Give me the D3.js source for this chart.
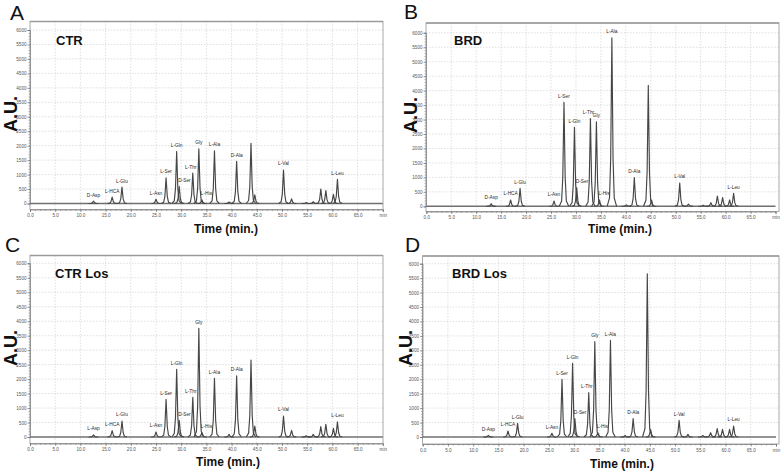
<!DOCTYPE html>
<html><head><meta charset="utf-8">
<script src="https://cdn.jsdelivr.net/npm/d3@7"></script>
<style>body{margin:0;background:#fff} svg{display:block}</style>
</head><body>
<svg id="c" width="784" height="472"></svg>
<script>
// ---------------- DATA ----------------
const peakNames = ["D-Asp","L-HCA","L-Glu","L-Asn","L-Ser","L-Gln","D-Ser","L-Thr","Gly","L-His","L-Ala",null,"D-Ala",null,null,"L-Val",null,null,null,null,null,null,"L-Leu"];
const aspLabels = ["D-Asp","D-Asp","L-Asp","D-Asp"];
const timeCTR = [12.6,16.3,18.25,25.0,27.0,29.1,29.6,32.3,33.5,34.1,36.6,39.5,41.0,43.85,44.6,50.3,51.9,54.8,56.2,57.7,58.7,60.2,61.0];
const timeBRD = [13.0,16.9,18.8,25.6,27.6,29.7,30.15,32.9,34.1,34.7,37.2,40.1,41.7,44.5,45.15,50.8,52.55,55.5,57.05,58.35,59.4,60.8,61.6];
const heightCTR    = [80,220,565,150,890,1800,590,1050,1890,130,1820,50,1460,2085,300,1160,160,30,60,500,450,320,840];
const heightBRD    = [90,218,620,184,3600,2735,645,3035,2920,220,5830,50,990,4180,220,805,80,40,125,356,300,220,450];
const heightCTRLos = [70,220,553,173,1300,2340,576,1370,3755,150,2030,90,2110,2660,380,725,230,40,90,360,440,300,520];
const heightBRDLos = [58,208,473,127,2000,2550,635,1535,3300,150,3345,50,635,5650,265,577,90,50,150,290,265,265,380];
const xTickValues = [0,5,10,15,20,25,30,35,40,45,50,55,60,65,70];
const xTickLabels = ["0.0","5.0","10.0","15.0","20.0","25.0","30.0","35.0","40.0","45.0","50.0","55.0","60.0","65.0","min"];
const yTickValues = [0,500,1000,1500,2000,2500,3000,3500,4000,4500,5000,5500,6000];
const panelLetters = ["A","B","C","D"];
const panelTitles = ["CTR","BRD","CTR Los","BRD Los"];

// ---------------- LAYOUT ----------------
const FONT = "'Liberation Sans', Arial, Helvetica, sans-serif";
const layouts = [
  {frame:{l:30,r:383,t:21.5,b:209.5}, xr:[30,382.8], yr:[203.5,30],  letter:[10,20],   au:[17,114],  time:[226,233], title:[56,45]},
  {frame:{l:426,r:779,t:23,b:211.5},  xr:[426.3,775.5], yr:[206.3,32.8], letter:[404,18.5], au:[417,115], time:[620,233], title:[454,45]},
  {frame:{l:30,r:383,t:255.5,b:443.5}, xr:[30,382.8], yr:[437,263.3], letter:[5,251.5], au:[17,348], time:[228,466], title:[55,277.5]},
  {frame:{l:422.5,r:779,t:256,b:444}, xr:[422.7,776], yr:[437,263.7], letter:[405,252], au:[412,348], time:[622,467.5], title:[452,277.5]}
];
const timesPer = [timeCTR,timeBRD,timeCTR,timeBRD];
const heightsPer = [heightCTR,heightBRD,heightCTRLos,heightBRDLos];

// peak drawing template (style): [offset in half-widths, fraction of height]
const PEAK_SHAPE = [[-1,0],[-0.5,0.05],[-0.25,0.28],[0,1],[0.25,0.28],[0.5,0.05],[1,0]];
const PEAK_W = 0.95;
const labelStyle = {"D-Ser":{anchor:"start",dx:-1},"L-His":{anchor:"start",dx:-1},"L-Thr":{anchor:"middle",dx:-2}};

const svg = d3.select("#c");

layouts.forEach((L,pi) => {
  const g = svg.append("g");
  const x = d3.scaleLinear().domain([0,70]).range(L.xr);
  const y = d3.scaleLinear().domain([0,6000]).range(L.yr);
  const f = L.frame;

  // grid
  g.append("g").selectAll("line").data(xTickValues.slice(1,-1)).join("line")
    .attr("x1",d=>x(d)).attr("x2",d=>x(d)).attr("y1",f.t).attr("y2",f.b)
    .attr("stroke","#cbcbcb").attr("stroke-width",0.6).attr("stroke-dasharray","1.5,1.5");
  g.append("g").selectAll("line").data(yTickValues.slice(1)).join("line")
    .attr("x1",f.l).attr("x2",f.r).attr("y1",d=>y(d)).attr("y2",d=>y(d))
    .attr("stroke","#cbcbcb").attr("stroke-width",0.6).attr("stroke-dasharray","1.5,1.5");

  // frame
  g.append("rect").attr("x",f.l).attr("y",f.t).attr("width",f.r-f.l).attr("height",f.b-f.t)
    .attr("fill","none").attr("stroke","#a8a8a8").attr("stroke-width",1);
  g.append("line").attr("x1",f.l).attr("x2",f.r).attr("y1",f.t).attr("y2",f.t)
    .attr("stroke","#9a9a9a").attr("stroke-width",1.4);

  // y axis (minor + major)
  const yMinor = d3.axisLeft(y).tickValues(d3.range(0,6001,100)).tickSize(1.5).tickFormat("");
  g.append("g").attr("transform",`translate(${f.l},0)`).call(yMinor)
    .call(s=>{s.select(".domain").remove(); s.selectAll("line").attr("stroke","#777").attr("stroke-width",0.5);});
  const yMajor = d3.axisLeft(y).tickValues(yTickValues).tickSize(2.5).tickPadding(1).tickFormat(d=>String(d));
  g.append("g").attr("transform",`translate(${f.l},0)`).call(yMajor)
    .call(s=>{s.select(".domain").attr("stroke","#777").attr("stroke-width",0.7);
      s.selectAll("line").attr("stroke","#666").attr("stroke-width",0.6);
      s.selectAll("text").attr("font-size",4.6).attr("font-family",FONT).attr("fill","#555");});

  // x axis (minor + major)
  const xMinor = d3.axisBottom(x).tickValues(d3.range(0,70.01,1)).tickSize(1.5).tickFormat("");
  g.append("g").attr("transform",`translate(0,${f.b})`).call(xMinor)
    .call(s=>{s.select(".domain").remove(); s.selectAll("line").attr("stroke","#777").attr("stroke-width",0.5);});
  const xMajor = d3.axisBottom(x).tickValues(xTickValues).tickSize(2.5).tickPadding(2)
    .tickFormat((d,i)=>xTickLabels[i]);
  g.append("g").attr("transform",`translate(0,${f.b})`).call(xMajor)
    .call(s=>{s.select(".domain").attr("stroke","#777").attr("stroke-width",0.7);
      s.selectAll("line").attr("stroke","#666").attr("stroke-width",0.6);
      s.selectAll("text").attr("font-size",4.6).attr("font-family",FONT).attr("fill","#555");});

  // chromatogram
  const times = timesPer[pi], heights = heightsPer[pi];
  const line = d3.line().x(d=>x(d[0])).y(d=>y(d[1]));
  g.append("path").attr("d", line([[0,0],[70,0]]))
    .attr("fill","none").attr("stroke","#707070").attr("stroke-width",1.4);
  const peaks = times.map((t,i)=>({t, h:heights[i], name: i===0 ? aspLabels[pi] : peakNames[i]}));
  g.append("g").selectAll("path").data(peaks).join("path")
    .attr("d", p => line(PEAK_SHAPE.map(([dx,fr]) => [p.t + dx*PEAK_W, fr*p.h])))
    .attr("fill","none").attr("stroke","#464646").attr("stroke-width",1.15).attr("stroke-linejoin","round");

  // peak labels
  g.append("g").selectAll("text").data(peaks.filter(p=>p.name)).join("text")
    .attr("x", p => x(p.t) + ((labelStyle[p.name]||{}).dx||0))
    .attr("y", p => y(p.h) - 4.6)
    .attr("text-anchor", p => (labelStyle[p.name]||{}).anchor || "middle")
    .attr("font-size",4.8).attr("font-family",FONT).attr("fill","#2a2a2a")
    .text(p=>p.name);

  // texts
  g.append("text").attr("x",L.letter[0]).attr("y",L.letter[1]).attr("font-size",21)
    .attr("font-family",FONT).attr("fill","#111").text(panelLetters[pi]);
  g.append("text").attr("x",L.title[0]).attr("y",L.title[1]).attr("font-size",13)
    .attr("font-weight","bold").attr("font-family",FONT).attr("fill","#111").text(panelTitles[pi]);
  g.append("text").attr("transform",`translate(${L.au[0]},${L.au[1]}) rotate(-90)`)
    .attr("text-anchor","middle").attr("font-size",18).attr("font-weight","bold")
    .attr("font-family",FONT).attr("fill","#111").text("A.U.");
  g.append("text").attr("x",L.time[0]).attr("y",L.time[1]).attr("text-anchor","middle")
    .attr("font-size",12).attr("font-weight","bold").attr("font-family",FONT).attr("fill","#111")
    .text("Time (min.)");
});
</script>
</body></html>
